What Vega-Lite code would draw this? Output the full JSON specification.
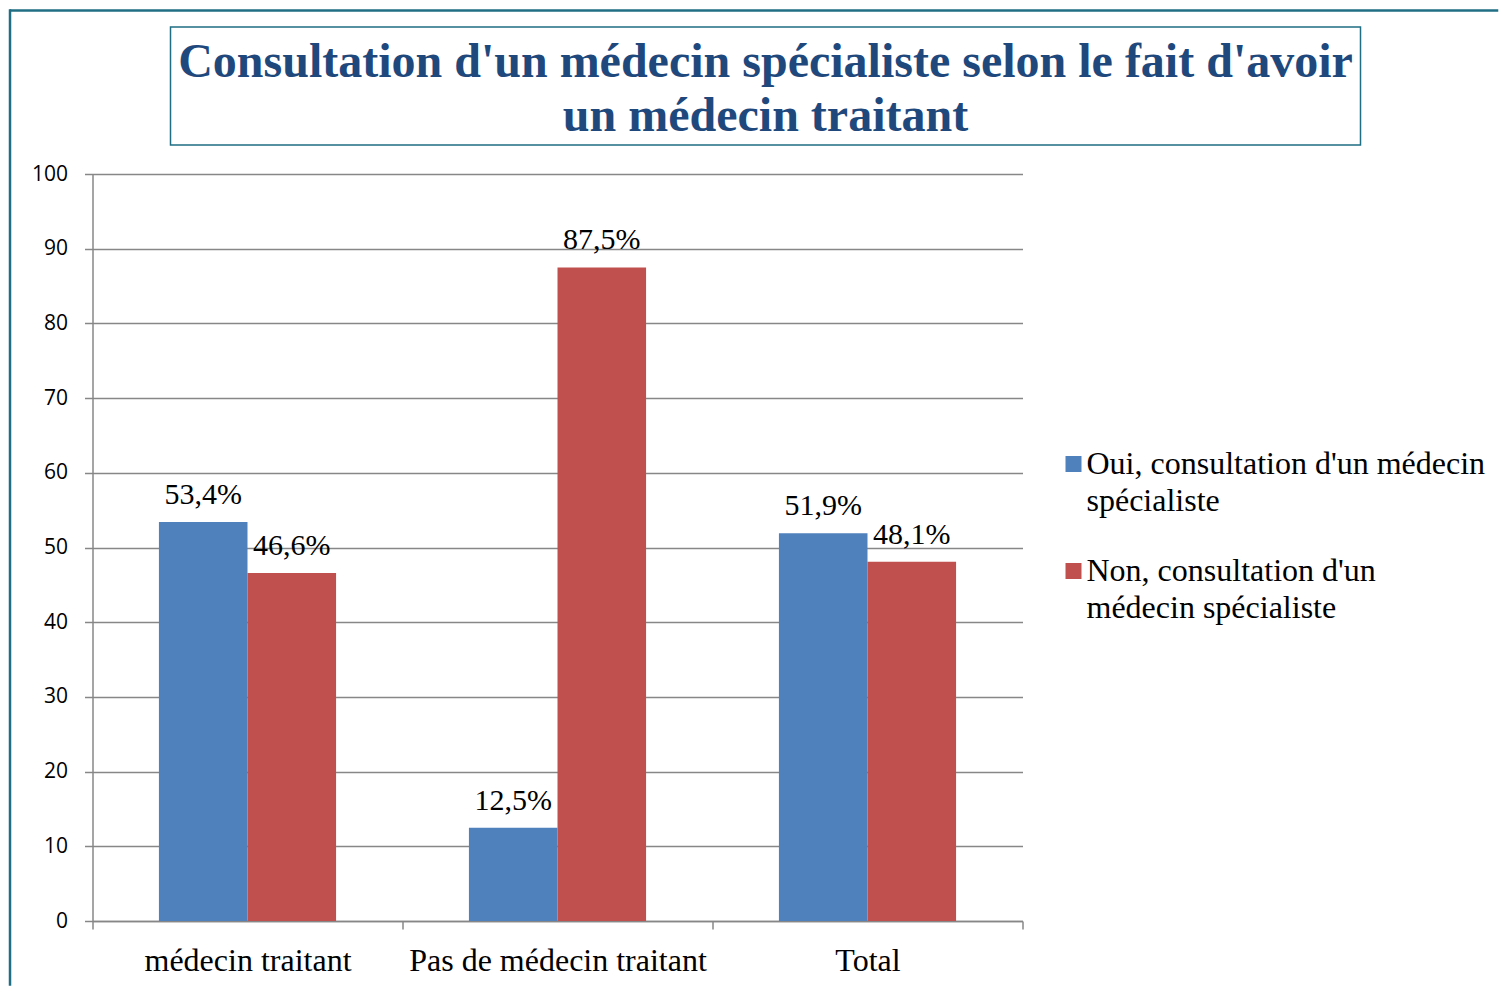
{
  "$schema": "https://vega.github.io/schema/vega-lite/v6.json",
  "background": "white",
  "padding": {"left": 8.5, "top": 9, "right": 0, "bottom": 0},
  "config": {"view": {"stroke": null}, "style": {"guide-label": {"lineHeight": 37}}},
  "spacing": 0,
  "bounds": "flush",
  "hconcat": [
    {
      "width": 1, "height": 975,
      "view": {"stroke": "#1F6E84", "strokeWidth": 1.5},
      "data": {"values": []},
      "mark": "point"
    },
    {
      "spacing": 14,
      "bounds": "full",
      "vconcat": [
        {
          "width": 1487, "height": 1,
          "view": {"stroke": "#1F6E84", "strokeWidth": 1.5},
          "data": {"values": []},
          "mark": "point"
        },
        {
          "spacing": 159,
          "bounds": "flush",
          "hconcat": [
            {
              "width": 1, "height": 122,
              "data": {"values": []},
              "mark": "point"
            },
            {
              "width": 1190, "height": 118,
              "view": {"stroke": "#1F6E84", "strokeWidth": 1.5},
              "data": {"values": [
                {"ligne": 1, "texte": "Consultation d'un médecin spécialiste selon le fait d'avoir"},
                {"ligne": 2, "texte": "un médecin traitant"}
              ]},
              "mark": {"type": "text", "font": "Liberation Serif", "fontSize": 48, "fontWeight": "bold", "color": "#1F497D", "baseline": "middle", "dy": 4},
              "encoding": {
                "y": {"field": "ligne", "type": "ordinal", "scale": {"type": "point", "padding": 0.593}, "axis": null},
                "text": {"field": "texte"}
              }
            }
          ]
        },
        {
          "spacing": 81,
          "bounds": "flush",
          "resolve": {"scale": {"color": "independent"}, "legend": {"color": "independent"}},
          "hconcat": [
            {
              "width": 1, "height": 747,
              "data": {"values": []},
              "mark": "point"
            },
            {
              "width": 930, "height": 747,
              "data": {"values": [
                {"groupe": "médecin traitant", "serie": "Oui, consultation d'un médecin spécialiste", "valeur": 53.4, "etiquette": "53,4%"},
                {"groupe": "médecin traitant", "serie": "Non, consultation d'un médecin spécialiste", "valeur": 46.6, "etiquette": "46,6%"},
                {"groupe": "Pas de médecin traitant", "serie": "Oui, consultation d'un médecin spécialiste", "valeur": 12.5, "etiquette": "12,5%"},
                {"groupe": "Pas de médecin traitant", "serie": "Non, consultation d'un médecin spécialiste", "valeur": 87.5, "etiquette": "87,5%"},
                {"groupe": "Total", "serie": "Oui, consultation d'un médecin spécialiste", "valeur": 51.9, "etiquette": "51,9%"},
                {"groupe": "Total", "serie": "Non, consultation d'un médecin spécialiste", "valeur": 48.1, "etiquette": "48,1%"}
              ]},
              "encoding": {
                "x": {
                  "field": "groupe", "type": "nominal",
                  "sort": ["médecin traitant", "Pas de médecin traitant", "Total"],
                  "scale": {"paddingInner": 0, "paddingOuter": 0},
                  "axis": {
                    "title": null, "labelAngle": 0,
                    "labelFont": "Liberation Serif", "labelFontSize": 32, "labelColor": "black",
                    "labelPadding": 16, "labelLimit": 600,
                    "tickBand": "extent", "tickSize": 8, "tickColor": "#878787", "tickWidth": 1.5,
                    "domainColor": "#878787", "domainWidth": 1.5, "grid": false
                  }
                },
                "xOffset": {
                  "field": "serie", "type": "nominal",
                  "sort": ["Oui, consultation d'un médecin spécialiste", "Non, consultation d'un médecin spécialiste"],
                  "scale": {"paddingInner": 0, "paddingOuter": 0.75}
                },
                "y": {
                  "field": "valeur", "type": "quantitative",
                  "scale": {"domain": [0, 100]},
                  "axis": {
                    "title": null, "values": [0, 10, 20, 30, 40, 50, 60, 70, 80, 90, 100],
                    "labelFont": "Open Sans", "labelFontSize": 21, "labelColor": "black", "labelPadding": 17,
                    "tickSize": 8, "tickColor": "#878787", "tickWidth": 1.5,
                    "domainColor": "#878787", "domainWidth": 1.5,
                    "grid": true, "gridColor": "#878787", "gridWidth": 1.5
                  }
                }
              },
              "layer": [
                {
                  "mark": {"type": "bar"},
                  "encoding": {
                    "color": {
                      "field": "serie", "type": "nominal",
                      "scale": {
                        "domain": ["Oui, consultation d'un médecin spécialiste", "Non, consultation d'un médecin spécialiste"],
                        "range": ["#4F81BD", "#C0504D"]
                      },
                      "legend": {
                        "title": null, "orient": "none", "legendX": 965, "legendY": 274,
                        "padding": 0, "symbolType": "square", "symbolSize": 256, "symbolStrokeWidth": 0,
                        "labelFont": "Liberation Serif", "labelFontSize": 32, "labelColor": "black",
                        "labelLimit": 600, "labelOffset": -3, "labelBaseline": "middle", "rowPadding": 38,
                        "labelExpr": "datum.label == \"Oui, consultation d'un médecin spécialiste\" ? [\"Oui, consultation d'un médecin\", \"spécialiste\"] : [\"Non, consultation d'un\", \"médecin spécialiste\"]"
                      }
                    }
                  }
                },
                {
                  "mark": {"type": "text", "font": "Liberation Serif", "fontSize": 30, "color": "black", "baseline": "alphabetic", "dy": -18},
                  "encoding": {"text": {"field": "etiquette"}}
                }
              ]
            }
          ]
        }
      ]
    }
  ]
}
